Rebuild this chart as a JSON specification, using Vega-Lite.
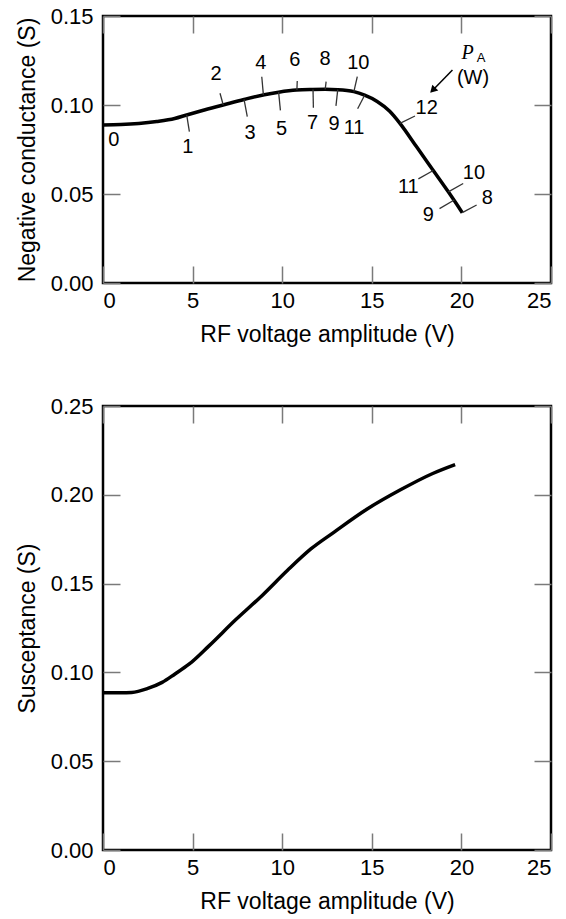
{
  "$schema": "https://vega.github.io/schema/vega-lite/v6.json",
  "background": "white",
  "padding": {"left": 14, "top": 3, "right": 5, "bottom": 2},
  "spacing": 123,
  "bounds": "flush",
  "config": {
    "font": "Liberation Sans",
    "view": {"stroke": "black", "strokeWidth": 2.5},
    "axis": {
      "domain": false, "grid": false, "tickSize": -17, "tickColor": "#7a7a7a", "tickWidth": 1.5,
      "labelFontSize": 22, "labelColor": "black", "labelFont": "Liberation Sans", "labelPadding": 27,
      "titleFontSize": 23, "titleFontWeight": "normal", "titleColor": "black", "titleFont": "Liberation Sans"
    },
    "axisY": {"titlePadding": 11},
    "axisX": {"titlePadding": 12, "labelPadding": 24}
  },
  "datasets": {
    "g": [
      {"v": 0, "g": 0.0888}, {"v": 1, "g": 0.0890}, {"v": 2, "g": 0.0896}, {"v": 3, "g": 0.0907},
      {"v": 4, "g": 0.0924}, {"v": 4.67, "g": 0.0944}, {"v": 5.5, "g": 0.0968}, {"v": 6.7, "g": 0.1000},
      {"v": 7.87, "g": 0.1031}, {"v": 9, "g": 0.1058}, {"v": 9.8, "g": 0.1072}, {"v": 10.8, "g": 0.1084},
      {"v": 11.7, "g": 0.1087}, {"v": 12.4, "g": 0.1088}, {"v": 13.1, "g": 0.1086}, {"v": 14, "g": 0.1075},
      {"v": 14.6, "g": 0.1055}, {"v": 15.3, "g": 0.1020}, {"v": 16, "g": 0.0965}, {"v": 16.57, "g": 0.0897},
      {"v": 17.5, "g": 0.0765}, {"v": 18.43, "g": 0.0632}, {"v": 19.27, "g": 0.0512}, {"v": 20.05, "g": 0.0395}
    ],
    "tk": [
      {"v": 4.67, "g": 0.0944, "v2": 4.82, "g2": 0.0850},
      {"v": 6.71, "g": 0.1000, "v2": 6.53, "g2": 0.1066},
      {"v": 7.87, "g": 0.1031, "v2": 8.05, "g2": 0.0935},
      {"v": 8.95, "g": 0.1057, "v2": 8.86, "g2": 0.1159},
      {"v": 9.8, "g": 0.1072, "v2": 9.9, "g2": 0.0970},
      {"v": 10.82, "g": 0.1084, "v2": 10.84, "g2": 0.1135},
      {"v": 11.72, "g": 0.1087, "v2": 11.74, "g2": 0.0985},
      {"v": 12.4, "g": 0.1088, "v2": 12.45, "g2": 0.1131},
      {"v": 13.1, "g": 0.1086, "v2": 13.0, "g2": 0.0995},
      {"v": 14.0, "g": 0.1075, "v2": 14.19, "g2": 0.1159},
      {"v": 14.6, "g": 0.1055, "v2": 14.21, "g2": 0.0979},
      {"v": 16.57, "g": 0.0897, "v2": 17.41, "g2": 0.0938},
      {"v": 18.43, "g": 0.0632, "v2": 17.6, "g2": 0.0585},
      {"v": 19.27, "g": 0.0512, "v2": 20.1, "g2": 0.0559},
      {"v": 19.6, "g": 0.0466, "v2": 18.78, "g2": 0.0418},
      {"v": 20.05, "g": 0.0395, "v2": 20.85, "g2": 0.0438}
    ],
    "lab": [
      {"v": 0.61, "g": 0.0803, "t": "0"}, {"v": 4.73, "g": 0.0766, "t": "1"},
      {"v": 6.31, "g": 0.1174, "t": "2"}, {"v": 8.20, "g": 0.0841, "t": "3"},
      {"v": 8.80, "g": 0.1238, "t": "4"}, {"v": 9.97, "g": 0.0864, "t": "5"},
      {"v": 10.71, "g": 0.1253, "t": "6"}, {"v": 11.70, "g": 0.0897, "t": "7"},
      {"v": 12.39, "g": 0.1260, "t": "8"}, {"v": 12.89, "g": 0.0893, "t": "9"},
      {"v": 14.25, "g": 0.1234, "t": "10"}, {"v": 14.01, "g": 0.0869, "t": "11"},
      {"v": 18.06, "g": 0.0981, "t": "12"}, {"v": 17.04, "g": 0.0541, "t": "11"},
      {"v": 20.70, "g": 0.0616, "t": "10"}, {"v": 18.15, "g": 0.0382, "t": "9"},
      {"v": 21.45, "g": 0.0476, "t": "8"}, {"v": 20.65, "g": 0.1150, "t": "(W)"}
    ],
    "pa": [{"v": 20.35, "g": 0.1290, "t": "P"}],
    "sub": [{"v": 21.1, "g": 0.1262, "t": "A"}],
    "arr": [{"v": 19.5, "g": 0.1197, "v2": 18.4, "g2": 0.1083}],
    "b": [
      {"v": 0, "b": 0.0885}, {"v": 1, "b": 0.0885}, {"v": 1.6, "b": 0.0887}, {"v": 2.5, "b": 0.0910},
      {"v": 3.3, "b": 0.0944}, {"v": 4, "b": 0.0990}, {"v": 4.8, "b": 0.1046}, {"v": 5.9, "b": 0.1148},
      {"v": 7.4, "b": 0.1296}, {"v": 8.9, "b": 0.1435}, {"v": 10.3, "b": 0.1575}, {"v": 11.6, "b": 0.1695},
      {"v": 12.9, "b": 0.1790}, {"v": 14.7, "b": 0.1917}, {"v": 16.6, "b": 0.2028}, {"v": 18.4, "b": 0.2120},
      {"v": 19.65, "b": 0.2170}
    ]
  },
  "vconcat": [
    {
      "width": 448, "height": 267,
      "resolve": {"axis": {"x": "independent", "y": "independent"}},
      "layer": [
        {
          "data": {"name": "g"},
          "mark": {"type": "line", "color": "black", "strokeWidth": 3.5, "interpolate": "monotone"},
          "encoding": {
            "x": {"field": "v", "type": "quantitative", "scale": {"domain": [0, 25], "nice": false},
                  "axis": {"orient": "bottom", "values": [0, 5, 10, 15, 20, 25], "title": "RF voltage amplitude (V)"}},
            "y": {"field": "g", "type": "quantitative", "scale": {"domain": [0, 0.15], "nice": false},
                  "axis": {"orient": "left", "values": [0, 0.05, 0.1, 0.15], "format": ".2f", "title": "Negative conductance (S)"}}
          }
        },
        {
          "data": {"name": "tk"},
          "mark": {"type": "rule", "color": "#333333", "strokeWidth": 1.3},
          "encoding": {
            "x": {"field": "v", "type": "quantitative", "axis": {"orient": "top", "values": [0, 5, 10, 15, 20, 25], "labels": false, "title": null}},
            "y": {"field": "g", "type": "quantitative", "axis": {"orient": "right", "values": [0, 0.05, 0.1, 0.15], "labels": false, "title": null}},
            "x2": {"field": "v2"},
            "y2": {"field": "g2"}
          }
        },
        {
          "data": {"name": "lab"},
          "mark": {"type": "text", "fontSize": 20, "color": "black", "align": "center", "baseline": "middle"},
          "encoding": {
            "x": {"field": "v", "type": "quantitative", "axis": null},
            "y": {"field": "g", "type": "quantitative", "axis": null},
            "text": {"field": "t"}
          }
        },
        {
          "data": {"name": "pa"},
          "mark": {"type": "text", "fontSize": 20, "font": "Liberation Serif", "fontStyle": "italic", "color": "black", "align": "center", "baseline": "middle"},
          "encoding": {
            "x": {"field": "v", "type": "quantitative", "axis": null},
            "y": {"field": "g", "type": "quantitative", "axis": null},
            "text": {"field": "t"}
          }
        },
        {
          "data": {"name": "sub"},
          "mark": {"type": "text", "fontSize": 13, "color": "black", "align": "center", "baseline": "middle"},
          "encoding": {
            "x": {"field": "v", "type": "quantitative", "axis": null},
            "y": {"field": "g", "type": "quantitative", "axis": null},
            "text": {"field": "t"}
          }
        },
        {
          "data": {"name": "arr"},
          "mark": {"type": "rule", "color": "black", "strokeWidth": 1.5},
          "encoding": {
            "x": {"field": "v", "type": "quantitative", "axis": null},
            "y": {"field": "g", "type": "quantitative", "axis": null},
            "x2": {"field": "v2"},
            "y2": {"field": "g2"}
          }
        },
        {
          "data": {"name": "arr"},
          "mark": {"type": "point", "shape": "triangle-up", "filled": true, "color": "black", "size": 70, "angle": 225, "opacity": 1},
          "encoding": {
            "x": {"field": "v2", "type": "quantitative", "axis": null},
            "y": {"field": "g2", "type": "quantitative", "axis": null}
          }
        }
      ]
    },
    {
      "width": 448, "height": 444,
      "resolve": {"axis": {"x": "independent", "y": "independent"}},
      "layer": [
        {
          "data": {"name": "b"},
          "mark": {"type": "line", "color": "black", "strokeWidth": 3.5, "interpolate": "monotone"},
          "encoding": {
            "x": {"field": "v", "type": "quantitative", "scale": {"domain": [0, 25], "nice": false},
                  "axis": {"orient": "bottom", "values": [0, 5, 10, 15, 20, 25], "title": "RF voltage amplitude (V)"}},
            "y": {"field": "b", "type": "quantitative", "scale": {"domain": [0, 0.25], "nice": false},
                  "axis": {"orient": "left", "values": [0, 0.05, 0.1, 0.15, 0.2, 0.25], "format": ".2f", "title": "Susceptance (S)"}}
          }
        },
        {
          "data": {"name": "b"},
          "mark": {"type": "line", "strokeOpacity": 0, "interpolate": "monotone"},
          "encoding": {
            "x": {"field": "v", "type": "quantitative", "axis": {"orient": "top", "values": [0, 5, 10, 15, 20, 25], "labels": false, "title": null}},
            "y": {"field": "b", "type": "quantitative", "axis": {"orient": "right", "values": [0, 0.05, 0.1, 0.15, 0.2, 0.25], "labels": false, "title": null}}
          }
        }
      ]
    }
  ]
}
